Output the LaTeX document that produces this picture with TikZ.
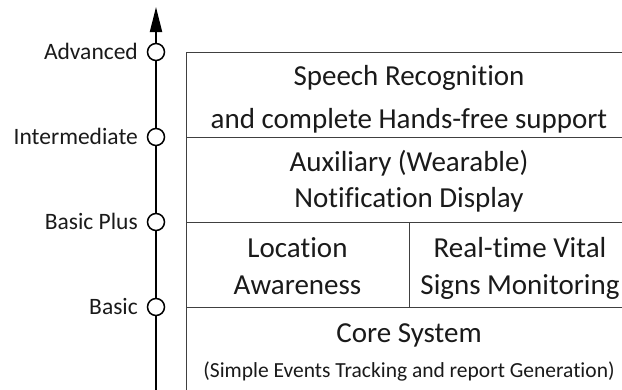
\documentclass[tikz,border=0pt]{standalone}
\usepackage{fontspec}
\setmainfont[Ligatures=NoCommon]{Carlito}
\usetikzlibrary{arrows.meta}
\definecolor{ink}{HTML}{1A1A1A}
\definecolor{rule}{HTML}{404040}
\begin{document}
\begin{tikzpicture}[x=1pt,y=-1pt,
  cell/.style={draw=rule, line width=1.3pt, inner sep=0pt, anchor=north west},
  big/.style={font=\fontsize{29}{34}\selectfont, text=ink, inner sep=0pt, anchor=base},
  note/.style={font=\fontsize{21.5}{26}\selectfont, text=ink, inner sep=0pt, anchor=base},
  lvl/.style={font=\fontsize{23.5}{28}\selectfont, text=ink, inner sep=0pt, anchor=base east},
  stage/.style={circle, draw=black, line width=1.5pt, fill=white, minimum size=17pt, inner sep=0pt},
  axis/.style={draw=black, line width=2pt, -{Triangle[length=25pt,width=12pt]}}
]
\useasboundingbox (0,0) rectangle (622,389);

% layered feature blocks
\node[cell, minimum width=446pt, minimum height=85pt] (c1) at (186,52) {};
\node[cell, minimum width=446pt, minimum height=85pt] (c2) at (186,137) {};
\node[cell, minimum width=223pt, minimum height=85pt] (c3a) at (186,222) {};
\node[cell, minimum width=223pt, minimum height=85pt] (c3b) at (409,222) {};
\node[cell, minimum width=446pt, minimum height=100pt] (c4) at (186,307) {};

% block texts
\node[big] (s1) at (409,85) {Speech Recognition};
\node[big] (s2) at (409,128) {and complete Hands-free support};
\node[big] (a1) at (409,171) {Auxiliary (Wearable)};
\node[big] (a2) at (409,207) {Notification Display};
\node[big] (l1) at (297.5,257) {Location};
\node[big] (l2) at (297.5,294) {Awareness};
\node[big] (r1) at (520,257) {Real-time Vital};
\node[big] (r2) at (520,294) {Signs Monitoring};
\node[big] (cs) at (409,342) {Core System};
\node[note] (cs2) at (409,377) {(Simple Events Tracking and report Generation)};

% level axis
\coordinate (axbot) at (156,395);
\coordinate (axtop) at (156,7);
\draw[axis] (axbot) -- (axtop);

\node[stage] (adv) at (156,52) {};
\node[stage] (int) at (156,137) {};
\node[stage] (bp) at (156,222) {};
\node[stage] (bas) at (156,307) {};

\node[lvl] (tadv) at (138,59.5) {Advanced};
\node[lvl] (tint) at (138,144.5) {Intermediate};
\node[lvl] (tbp) at (138,229.5) {Basic Plus};
\node[lvl] (tbas) at (138,314.5) {Basic};
\end{tikzpicture}
\end{document}
